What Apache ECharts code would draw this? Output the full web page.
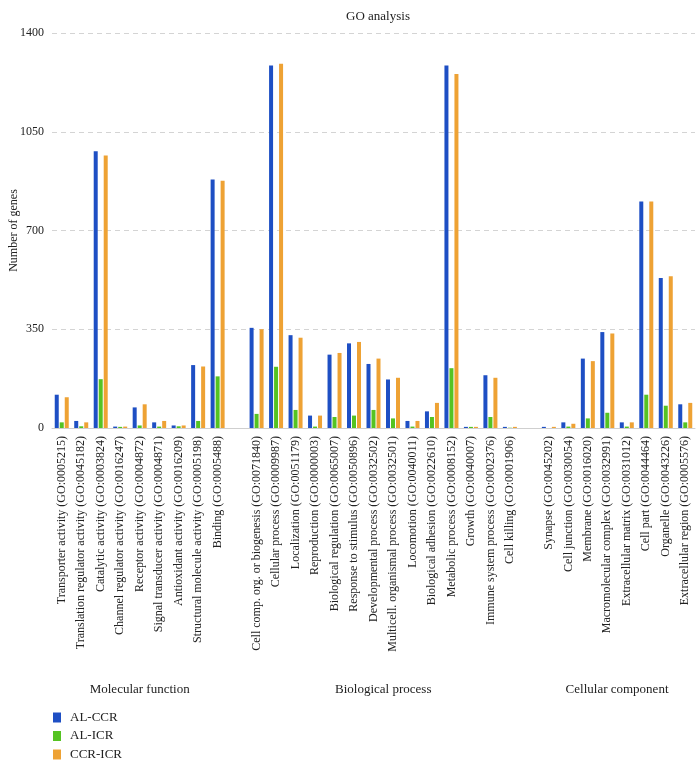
<!DOCTYPE html>
<html>
<head>
<meta charset="utf-8">
<script src="https://cdn.jsdelivr.net/npm/echarts@6/dist/echarts.min.js"></script>
<style>
  html, body { margin: 0; padding: 0; background: #fff; }
  #chart { width: 700px; height: 764px; }
</style>
</head>
<body>
<div id="chart"></div>
<script>
// GO categories, grouped
const groupNames = ['Molecular function', 'Biological process', 'Cellular component'];

const molecularTerms = [
    'Transporter activity (GO:0005215)',
    'Translation regulator activity (GO:0045182)',
    'Catalytic activity (GO:0003824)',
    'Channel regulator activity (GO:0016247)',
    'Receptor activity (GO:0004872)',
    'Signal transducer activity (GO:0004871)',
    'Antioxidant activity (GO:0016209)',
    'Structural molecule activity (GO:0005198)',
    'Binding (GO:0005488)'
];
const biologicalTerms = [
    'Cell comp. org. or biogenesis (GO:0071840)',
    'Cellular process (GO:0009987)',
    'Localization (GO:0051179)',
    'Reproduction (GO:0000003)',
    'Biological regulation (GO:0065007)',
    'Response to stimulus (GO:0050896)',
    'Developmental process (GO:0032502)',
    'Multicell. organismal process (GO:0032501)',
    'Locomotion (GO:0040011)',
    'Biological adhesion (GO:0022610)',
    'Metabolic process (GO:0008152)',
    'Growth (GO:0040007)',
    'Immune system process (GO:0002376)',
    'Cell killing (GO:0001906)'
];
const cellularTerms = [
    'Synapse (GO:0045202)',
    'Cell junction (GO:0030054)',
    'Membrane (GO:0016020)',
    'Macromolecular complex (GO:0032991)',
    'Extracellular matrix (GO:0031012)',
    'Cell part (GO:0044464)',
    'Organelle (GO:0043226)',
    'Extracellular region (GO:0005576)'
];

// values per group: AL-CCR, AL-ICR, CCR-ICR
const molecularAlCcr  = [118, 25, 981, 5, 73, 20, 9, 223, 881];
const molecularAlIcr  = [20, 6, 173, 4, 9, 5, 6, 25, 183];
const molecularCcrIcr = [109, 20, 966, 5, 84, 25, 9, 218, 876];

const biologicalAlCcr  = [355, 1285, 329, 44, 260, 300, 227, 172, 25, 59, 1285, 4, 187, 4];
const biologicalAlIcr  = [50, 217, 64, 5, 39, 44, 64, 34, 5, 39, 212, 4, 39, 1];
const biologicalCcrIcr = [350, 1291, 320, 44, 266, 305, 246, 178, 25, 89, 1255, 4, 178, 4];

const cellularAlCcr  = [4, 20, 246, 340, 20, 803, 532, 84];
const cellularAlIcr  = [0, 5, 34, 54, 5, 118, 79, 20];
const cellularCcrIcr = [4, 15, 237, 335, 20, 803, 538, 89];

const yTicks = [0, 350, 700, 1050, 1400];

const seriesNames = ['AL-CCR', 'AL-ICR', 'CCR-ICR'];
const seriesColors = ['#1e4fc4', '#55c322', '#eea234'];

// build the category axis with one blank slot between groups
const groups = [
    { terms: molecularTerms, vals: [molecularAlCcr, molecularAlIcr, molecularCcrIcr] },
    { terms: biologicalTerms, vals: [biologicalAlCcr, biologicalAlIcr, biologicalCcrIcr] },
    { terms: cellularTerms, vals: [cellularAlCcr, cellularAlIcr, cellularCcrIcr] }
];
const axisData = [];
const seriesData = [[], [], []];
const groupSpans = [];
groups.forEach((g, gi) => {
    if (gi > 0) {
        axisData.push('');
        seriesData.forEach(s => s.push(null));
    }
    const start = axisData.length;
    g.terms.forEach((t, i) => {
        axisData.push(t);
        seriesData.forEach((s, k) => s.push(g.vals[k][i]));
    });
    groupSpans.push([start, axisData.length - 1]);
});

const font = '"Liberation Serif", "DejaVu Serif", serif';

const chart = echarts.init(document.getElementById('chart'));

chart.setOption({
    animation: false,
    textStyle: { fontFamily: font },
    title: {
        text: 'GO analysis',
        left: 373,
        top: 5,
        textAlign: 'center',
        textStyle: { fontFamily: font, fontSize: 13, fontWeight: 'normal', color: '#222' }
    },
    grid: { left: 52, right: 5, top: 33, bottom: 336, outerBoundsMode: 'none' },
    legend: {
        orient: 'vertical',
        left: 53,
        top: 711,
        padding: 0,
        itemWidth: 8,
        itemHeight: 10,
        itemGap: 5.5,
        icon: 'rect',
        textStyle: { fontFamily: font, fontSize: 13, color: '#222', padding: [0, 0, 0, 4] },
        data: seriesNames
    },
    xAxis: {
        type: 'category',
        data: axisData,
        axisTick: { show: false },
        axisLine: { lineStyle: { color: '#cfcfcf' } },
        axisLabel: {
            interval: 0,
            rotate: 90,
            margin: 8,
            fontFamily: font,
            fontSize: 12,
            color: '#222'
        }
    },
    yAxis: {
        type: 'value',
        min: yTicks[0],
        max: yTicks[yTicks.length - 1],
        interval: yTicks[1] - yTicks[0],
        name: 'Number of genes',
        nameLocation: 'middle',
        nameGap: 32,
        nameMoveOverlap: false,
        nameTextStyle: { fontFamily: font, fontSize: 12, color: '#222' },
        axisLine: { show: false },
        axisTick: { show: false },
        axisLabel: { fontFamily: font, fontSize: 12, color: '#222', margin: 8, formatter: v => String(v) },
        splitLine: { lineStyle: { type: [5, 4], color: '#d4d4d4' } }
    },
    series: seriesNames.map((name, k) => ({
        name: name,
        type: 'bar',
        data: seriesData[k],
        barWidth: 4,
        barGap: '25%',
        itemStyle: { color: seriesColors[k] }
    }))
});

// group labels centred under each group of categories
const groupLabels = groupSpans.map((span, gi) => {
    const x0 = chart.convertToPixel({ xAxisIndex: 0 }, span[0]);
    const x1 = chart.convertToPixel({ xAxisIndex: 0 }, span[1]);
    return {
        type: 'text',
        x: (x0 + x1) / 2,
        y: 690,
        style: {
            text: groupNames[gi],
            fontFamily: font,
            fontSize: 13,
            fill: '#222',
            align: 'center',
            verticalAlign: 'middle'
        }
    };
});
chart.setOption({ graphic: groupLabels });

window.addEventListener('resize', () => chart.resize());
</script>
</body>
</html>
